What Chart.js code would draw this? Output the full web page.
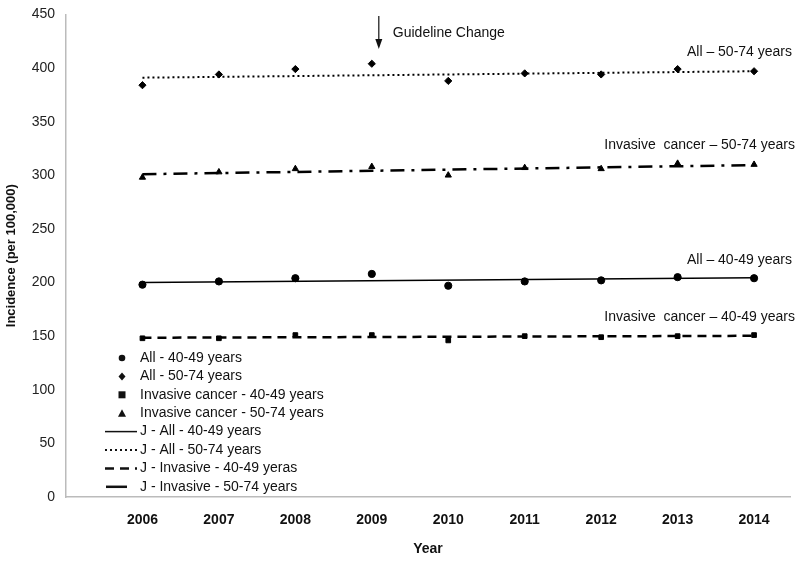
<!DOCTYPE html>
<html>
<head>
<meta charset="utf-8">
<script src="https://cdn.jsdelivr.net/npm/chart.js@4.4.1/dist/chart.umd.min.js"></script>
<style>
  html, body { margin: 0; padding: 0; background: #fff; }
  #wrap { width: 800px; height: 562px; }
</style>
</head>
<body>
<div id="wrap"><canvas id="incidenceChart" width="800" height="562"></canvas></div>
<script>
// years on the x axis
const years = [2006, 2007, 2008, 2009, 2010, 2011, 2012, 2013, 2014];

// observed incidence (per 100,000)
const all4049 = [198, 201, 204, 208, 197, 201, 202, 205, 204];
const all5074 = [384, 394, 399, 404, 388, 395, 394, 399, 397];
const inv4049 = [148, 148, 151, 151, 146, 150, 149, 150, 151];
const inv5074 = [298, 303, 306, 308, 300, 307, 306, 311, 310];

// joinpoint trend lines, start (2006) and end (2014)
const trendYears = [2006, 2014];
const trendAll4049 = [200, 204.5];
const trendAll5074 = [391, 397];
const trendInv4049 = [148.5, 150.3];
const trendInv5074 = [301, 309.5];

const yTicks = [0, 50, 100, 150, 200, 250, 300, 350, 400, 450];

const toPoints = (xs, ys) => xs.map((x, i) => ({ x: x, y: ys[i] }));

const FONT = '"Liberation Sans", Arial, sans-serif';

function markerSet(label, data, style) {
    return {
        label: label,
        data: toPoints(years, data),
        showLine: false,
        pointStyle: style,
        pointRadius: style === 'rect' ? 3.3 : 3.6,
        backgroundColor: '#000',
        borderColor: '#000',
        borderWidth: 1
    };
}

function trendSet(label, data, dash, width) {
    return {
        label: label,
        data: toPoints(trendYears, data),
        showLine: true,
        pointRadius: 0,
        borderColor: '#000',
        borderWidth: width,
        borderDash: dash,
        fill: false
    };
}

// legend rows, drawn inside the plot area
const legendRows = [
    { text: 'All - 40-49 years', marker: 'circle' },
    { text: 'All - 50-74 years', marker: 'diamond' },
    { text: 'Invasive cancer - 40-49 years', marker: 'square' },
    { text: 'Invasive cancer - 50-74 years', marker: 'triangle' },
    { text: 'J - All - 40-49 years', dash: [], width: 1.5 },
    { text: 'J - All - 50-74 years', dash: [2, 3], width: 2 },
    { text: 'J - Invasive - 40-49 yeras', dash: [9, 6], width: 2.5 },
    { text: 'J - Invasive - 50-74 years', dash: [], width: 2.5, short: true }
];

const labelsPlugin = {
    id: 'labels',
    afterDraw(chart) {
        const ctx = chart.ctx;
        const x = chart.scales.x;
        ctx.save();
        ctx.fillStyle = '#111';
        ctx.strokeStyle = '#111';
        ctx.font = '14px ' + FONT;
        ctx.textBaseline = 'middle';

        // line labels at the right
        ctx.textAlign = 'right';
        ctx.fillText('All \u2013 50-74 years', 792, 52);
        ctx.fillText('Invasive  cancer \u2013 50-74 years', 795, 145);
        ctx.fillText('All \u2013 40-49 years', 792, 260);
        ctx.fillText('Invasive  cancer \u2013 40-49 years', 795, 317);

        // guideline change arrow
        const ax = x.getPixelForValue(2009) + 7;
        ctx.lineWidth = 1.2;
        ctx.beginPath();
        ctx.moveTo(ax, 16);
        ctx.lineTo(ax, 46);
        ctx.stroke();
        ctx.beginPath();
        ctx.moveTo(ax - 3.5, 39);
        ctx.lineTo(ax + 3.5, 39);
        ctx.lineTo(ax, 49);
        ctx.closePath();
        ctx.fill();
        ctx.textAlign = 'left';
        ctx.fillText('Guideline Change', ax + 14, 33);

        // legend
        let ly = 358;
        legendRows.forEach(row => {
            const mx = 122;
            if (row.marker) {
                ctx.beginPath();
                if (row.marker === 'circle') {
                    ctx.arc(mx, ly, 3.3, 0, Math.PI * 2);
                } else if (row.marker === 'diamond') {
                    ctx.moveTo(mx, ly - 4); ctx.lineTo(mx + 3.5, ly);
                    ctx.lineTo(mx, ly + 4); ctx.lineTo(mx - 3.5, ly);
                } else if (row.marker === 'square') {
                    ctx.rect(mx - 3.5, ly - 3.5, 7, 7);
                } else {
                    ctx.moveTo(mx, ly - 4); ctx.lineTo(mx + 4, ly + 3.5); ctx.lineTo(mx - 4, ly + 3.5);
                }
                ctx.closePath();
                ctx.fill();
            } else {
                ctx.lineWidth = row.width;
                ctx.setLineDash(row.dash);
                ctx.beginPath();
                ctx.moveTo(row.short ? 106 : 105, ly);
                ctx.lineTo(row.short ? 127 : 137, ly);
                ctx.stroke();
                ctx.setLineDash([]);
            }
            ctx.fillText(row.text, 140, ly);
            ly += 18.4;
        });

        ctx.restore();
    }
};

new Chart(document.getElementById('incidenceChart'), {
    type: 'scatter',
    data: {
        datasets: [
            markerSet('All - 40-49 years', all4049, 'circle'),
            markerSet('All - 50-74 years', all5074, 'rectRot'),
            markerSet('Invasive cancer - 40-49 years', inv4049, 'rect'),
            markerSet('Invasive cancer - 50-74 years', inv5074, 'triangle'),
            trendSet('J - All - 40-49 years', trendAll4049, [], 1.5),
            trendSet('J - All - 50-74 years', trendAll5074, [2, 3], 2),
            trendSet('J - Invasive - 40-49 yeras', trendInv4049, [9, 6], 2.5),
            trendSet('J - Invasive - 50-74 years', trendInv5074, [14, 7, 3, 7], 2.5)
        ]
    },
    options: {
        responsive: false,
        animation: false,
        layout: { padding: { left: 0, right: 10, top: 12, bottom: 0 } },
        plugins: {
            legend: { display: false },
            tooltip: { enabled: false }
        },
        scales: {
            x: {
                type: 'linear',
                min: 2005,
                max: 2014.47,
                afterBuildTicks(scale) {
                    scale.ticks = years.map(v => ({ value: v }));
                },
                afterFit(scale) { scale.height = 65; },
                grid: { display: false, drawTicks: true, tickLength: 6, tickColor: '#bbb' },
                border: { color: '#bbb', width: 1.5 },
                ticks: {
                    color: '#111',
                    font: { family: FONT, size: 14, weight: 'bold' },
                    padding: 9,
                    callback: v => String(v)
                },
                title: {
                    display: true,
                    text: 'Year',
                    color: '#111',
                    font: { family: FONT, size: 14, weight: 'bold' },
                    padding: { top: 10 }
                }
            },
            y: {
                min: 0,
                max: 450,
                afterBuildTicks(scale) {
                    scale.ticks = yTicks.map(v => ({ value: v }));
                },
                afterFit(scale) { scale.width = 66; },
                grid: { display: false, drawTicks: true, tickLength: 5, tickColor: '#bbb' },
                border: { color: '#bbb', width: 1.5 },
                ticks: {
                    color: '#222',
                    font: { family: FONT, size: 14 },
                    padding: 6
                },
                title: {
                    display: true,
                    text: 'Incidence (per 100,000)',
                    color: '#111',
                    font: { family: FONT, size: 13, weight: 'bold' },
                    padding: { bottom: 6 }
                }
            }
        }
    },
    plugins: [labelsPlugin]
});
</script>
</body>
</html>
